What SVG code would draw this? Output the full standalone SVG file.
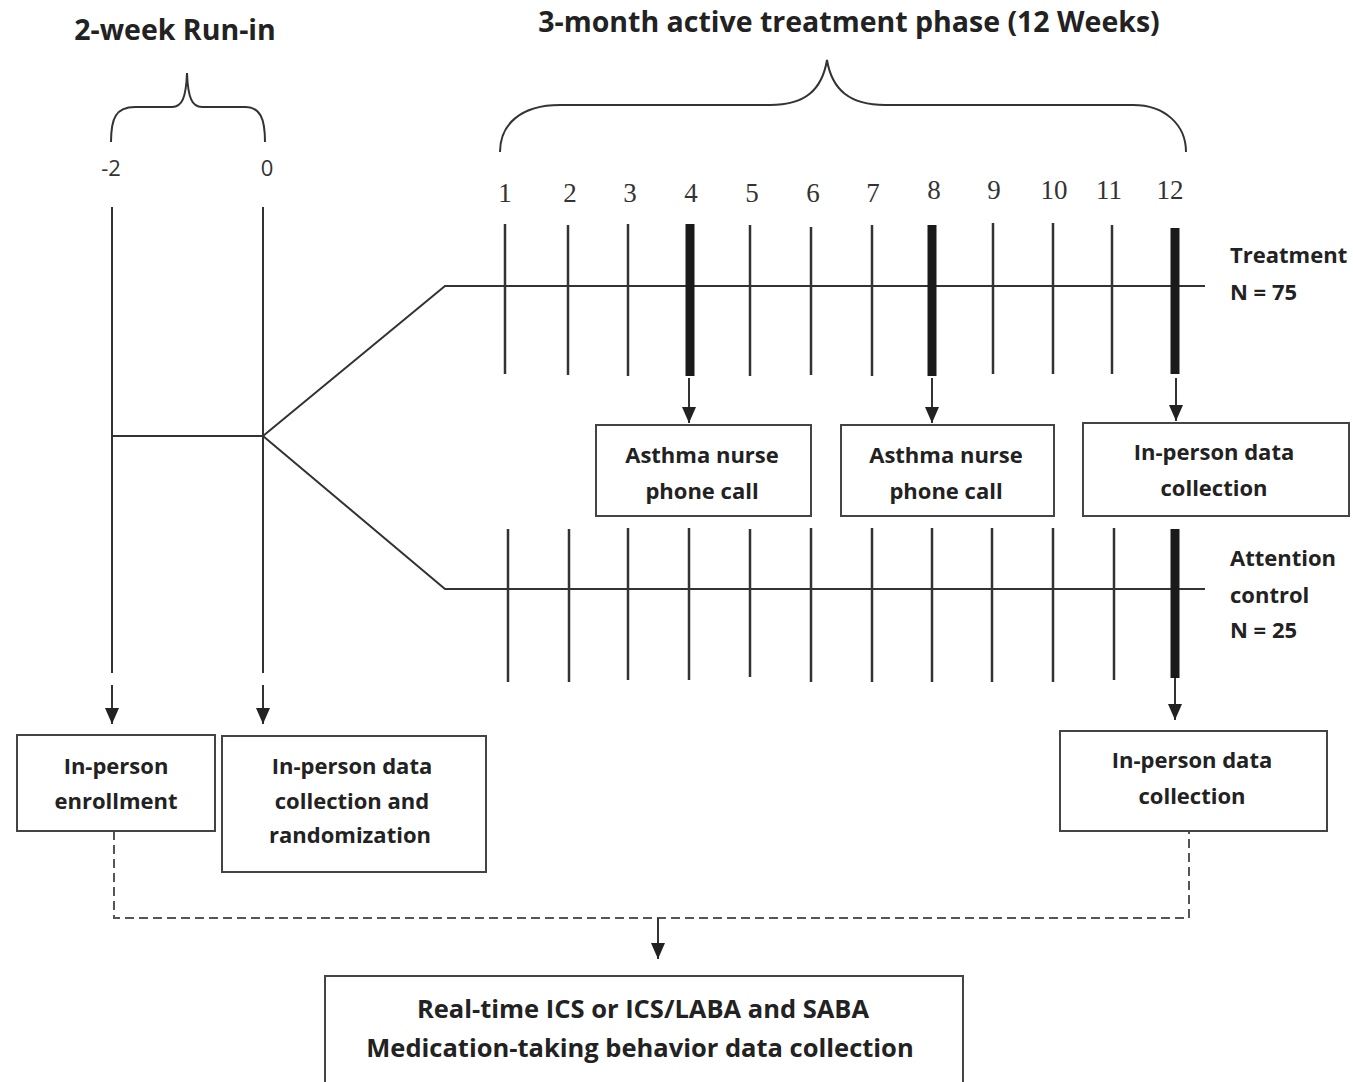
<svg xmlns="http://www.w3.org/2000/svg" width="1353" height="1082" viewBox="0 0 1353 1082">
<style>
.t{font-family:"Open Sans","Liberation Sans",sans-serif;font-weight:bold;fill:#222;}
.n{font-family:"Liberation Serif",serif;fill:#333;font-size:27px;text-anchor:middle;}
.ln{stroke:#333;stroke-width:2;fill:none;}
.tk{stroke:#333;stroke-width:2.5;}
.th{stroke:#1a1a1a;stroke-width:9;}
.box{fill:#fff;stroke:#444;stroke-width:2;}
.bt{font-family:"Open Sans","Liberation Sans",sans-serif;font-weight:bold;fill:#222;font-size:22px;text-anchor:middle;}
.big{font-size:25.5px;}
.dash{stroke:#555;stroke-width:2;fill:none;stroke-dasharray:9,5;}
</style>
<defs>
<marker id="ah" viewBox="0 0 16 14" refX="16" refY="7" markerWidth="16" markerHeight="14" markerUnits="userSpaceOnUse" orient="auto">
<path d="M0,0 L16,7 L0,14 Z" fill="#222"/>
</marker>
</defs>

<g id="titles">
<text class="t" x="175" y="40" font-size="28.5" text-anchor="middle">2-week Run-in</text>
<text class="t" x="849" y="32" font-size="28.5" text-anchor="middle">3-month active treatment phase (12 Weeks)</text>
</g>

<g id="braces">
<path class="ln" d="M111,142 C111,118 116,107 135,107 L172,107 C182,107 186,98 187,73 C188,98 192,107 202,107 L245,107 C260,107 265,118 265,142"/>
<path class="ln" d="M500,152 C500,125 520,105 560,105 L770,105 C805,105 822,90 827,60 C832,90 850,105 885,105 L1133,105 C1165,105 1186,125 1186,152"/>
</g>

<g id="axis-labels">
<text x="111" y="176" font-family="'Open Sans','Liberation Sans',sans-serif" font-size="22" fill="#333" text-anchor="middle">-2</text>
<text x="267" y="176" font-family="'Open Sans','Liberation Sans',sans-serif" font-size="22" fill="#333" text-anchor="middle">0</text>
<text class="n" x="505" y="202">1</text>
<text class="n" x="570" y="202">2</text>
<text class="n" x="630" y="202">3</text>
<text class="n" x="691" y="202">4</text>
<text class="n" x="752" y="202">5</text>
<text class="n" x="813" y="202">6</text>
<text class="n" x="873" y="202">7</text>
<text class="n" x="934" y="199">8</text>
<text class="n" x="994" y="199">9</text>
<text class="n" x="1054" y="199">10</text>
<text class="n" x="1109" y="199">11</text>
<text class="n" x="1170" y="199">12</text>
</g>

<g id="connectors">
<line class="ln" x1="112" y1="207" x2="112" y2="673"/>
<line class="ln" x1="263" y1="207" x2="263" y2="673"/>
<line class="ln" x1="112" y1="436" x2="263" y2="436"/>
<polyline class="ln" points="263,436 445,286 1205,286"/>
<polyline class="ln" points="263,436 445,589 1205,589"/>
<line class="ln" x1="112" y1="685" x2="112" y2="724" marker-end="url(#ah)"/>
<line class="ln" x1="263" y1="685" x2="263" y2="724" marker-end="url(#ah)"/>
<line class="ln" x1="689" y1="378" x2="689" y2="423" marker-end="url(#ah)"/>
<line class="ln" x1="932" y1="378" x2="932" y2="423" marker-end="url(#ah)"/>
<line class="ln" x1="1176" y1="378" x2="1176" y2="421" marker-end="url(#ah)"/>
<line class="ln" x1="1175" y1="678" x2="1175" y2="720" marker-end="url(#ah)"/>
<polyline class="dash" points="114,831 114,918 1189,918 1189,831"/>
<line class="ln" x1="658" y1="918" x2="658" y2="959" marker-end="url(#ah)"/>
</g>

<g id="treatment-ticks">
<line class="tk" x1="505" y1="224" x2="505" y2="374"/>
<line class="tk" x1="568" y1="225" x2="568" y2="375"/>
<line class="tk" x1="628" y1="224" x2="628" y2="376"/>
<line class="th" x1="690" y1="224" x2="690" y2="376"/>
<line class="tk" x1="750" y1="225" x2="750" y2="376"/>
<line class="tk" x1="811" y1="227" x2="811" y2="375"/>
<line class="tk" x1="872" y1="225" x2="872" y2="376"/>
<line class="th" x1="932" y1="225" x2="932" y2="376"/>
<line class="tk" x1="993" y1="223" x2="993" y2="374"/>
<line class="tk" x1="1053" y1="223" x2="1053" y2="374"/>
<line class="tk" x1="1112" y1="225" x2="1112" y2="374"/>
<line class="th" x1="1175" y1="228" x2="1175" y2="374"/>
</g>

<g id="control-ticks">
<line class="tk" x1="508" y1="529" x2="508" y2="682"/>
<line class="tk" x1="569" y1="529" x2="569" y2="682"/>
<line class="tk" x1="628" y1="528" x2="628" y2="680"/>
<line class="tk" x1="689" y1="528" x2="689" y2="680"/>
<line class="tk" x1="750" y1="529" x2="750" y2="677"/>
<line class="tk" x1="811" y1="528" x2="811" y2="682"/>
<line class="tk" x1="872" y1="528" x2="872" y2="682"/>
<line class="tk" x1="932" y1="528" x2="932" y2="682"/>
<line class="tk" x1="992" y1="528" x2="992" y2="682"/>
<line class="tk" x1="1053" y1="528" x2="1053" y2="682"/>
<line class="tk" x1="1114" y1="528" x2="1114" y2="680"/>
<line class="th" x1="1175" y1="529" x2="1175" y2="678"/>
</g>

<g id="group-labels">
<text class="t" font-size="22" x="1230" y="263">Treatment</text>
<text class="t" font-size="22" x="1230" y="300">N = 75</text>
<text class="t" font-size="22" x="1230" y="566">Attention</text>
<text class="t" font-size="22" x="1230" y="603">control</text>
<text class="t" font-size="22" x="1230" y="638">N = 25</text>
</g>

<g id="node-nurse1">
<rect class="box" x="596" y="425" width="215" height="91"/>
<text class="bt" x="702" y="463">Asthma nurse</text>
<text class="bt" x="702" y="499">phone call</text>
</g>
<g id="node-nurse2">
<rect class="box" x="841" y="425" width="213" height="91"/>
<text class="bt" x="946" y="463">Asthma nurse</text>
<text class="bt" x="946" y="499">phone call</text>
</g>
<g id="node-treat-collect">
<rect class="box" x="1083" y="423" width="266" height="93"/>
<text class="bt" x="1214" y="460">In-person data</text>
<text class="bt" x="1214" y="496">collection</text>
</g>
<g id="node-control-collect">
<rect class="box" x="1060" y="731" width="267" height="100"/>
<text class="bt" x="1192" y="768">In-person data</text>
<text class="bt" x="1192" y="804">collection</text>
</g>
<g id="node-enrollment">
<rect class="box" x="17" y="735" width="198" height="96"/>
<text class="bt" x="116" y="774">In-person</text>
<text class="bt" x="116" y="809">enrollment</text>
</g>
<g id="node-randomization">
<rect class="box" x="222" y="736" width="264" height="136"/>
<text class="bt" x="352" y="774">In-person data</text>
<text class="bt" x="352" y="809">collection  and</text>
<text class="bt" x="350" y="843">randomization</text>
</g>
<g id="node-medication">
<rect class="box" x="325" y="976" width="638" height="110"/>
<text class="bt big" x="643" y="1018">Real-time ICS or ICS/LABA and SABA</text>
<text class="bt big" x="640" y="1057">Medication-taking behavior data collection</text>
</g>
</svg>
